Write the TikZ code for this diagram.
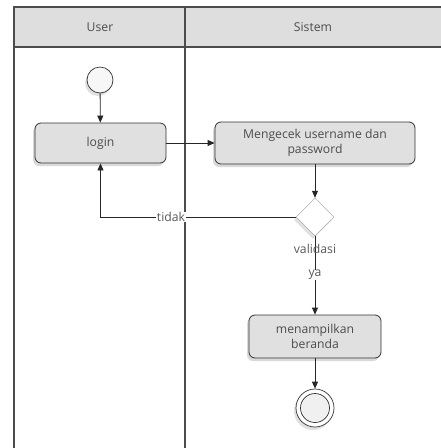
\documentclass[tikz,border=0pt]{standalone}
\usepackage{fontspec}
\setmainfont{Open Sans}
\usetikzlibrary{shapes.geometric,arrows.meta,shadows}
\begin{document}
\begin{tikzpicture}[x=1pt,y=-1pt,
  font=\fontsize{12.2}{14.5}\selectfont,
  lane/.style={draw=black!70,line width=1.3pt},
  hdr/.style={fill=black!13},
  act/.style={draw=black!80,fill=black!12,rounded corners=6pt,line width=0.8pt,
    align=center,text=black!70,inner sep=0pt,
    drop shadow={shadow xshift=-2pt,shadow yshift=-3pt,opacity=0.15,fill=black}},
  dec/.style={diamond,draw=black!40,fill=white,minimum width=38pt,minimum height=38pt,inner sep=0pt,
    drop shadow={shadow xshift=-2pt,shadow yshift=-3pt,opacity=0.12,fill=black}},
  startnode/.style={circle,draw=black!80,fill=black!3,minimum size=26pt,inner sep=0pt,line width=0.7pt,
    drop shadow={shadow xshift=-2pt,shadow yshift=-3pt,opacity=0.12,fill=black}},
  flow/.style={draw=black!85,line width=0.8pt,-{Triangle[length=7pt,width=6pt]}},
  lbl/.style={text=black!65,inner sep=0.5pt}
]
\useasboundingbox (0,0) rectangle (441,448);
\fill[white] (0,0) rectangle (441,448);
% swimlane header
\fill[hdr] (14,7) rectangle (441,47);
\draw[lane] (441,7) -- (14,7) -- (14,448);
\draw[lane] (14,47) -- (441,47);
\draw[lane] (185,7) -- (185,448);
\node[text=black!70] (huser) at (100,27) {User};
\node[text=black!70] (hsis) at (313,27) {Sistem};
% nodes
\node[startnode] (start) at (100,80) {};
\node[act,minimum width=131pt,minimum height=40pt] (login) at (100.5,143) {login};
\node[act,minimum width=200pt,minimum height=42pt] (cek) at (315,143) {Mengecek username dan\\password};
\node[dec] (val) at (315,217) {};
\node[act,minimum width=132pt,minimum height=43pt] (home) at (315,336.5) {menampilkan\\beranda};
\node[circle,draw=black!80,fill=white,minimum size=38pt,inner sep=0pt,line width=0.7pt,
  drop shadow={shadow xshift=-2pt,shadow yshift=-3pt,opacity=0.12,fill=black}] (end) at (315,408) {};
\node[circle,draw=black!80,fill=black!6,minimum size=29pt,inner sep=0pt,line width=0.7pt] (endin) at (315,408) {};
% connectors
\draw[flow] (start) -- (login);
\draw[flow] (login) -- (cek);
\draw[flow] (cek) -- (val);
\draw[flow] (val.west) -| (login.south);
\draw[flow] (val.south) -- (home.north);
\draw[flow] (home) -- (end);
% labels
\node[lbl,fill=white] (ltidak) at (171,217) {tidak};
\node[lbl] (lval) at (315,249) {validasi};
\node[lbl,fill=white] (lya) at (315,275) {ya};
\end{tikzpicture}
\end{document}
